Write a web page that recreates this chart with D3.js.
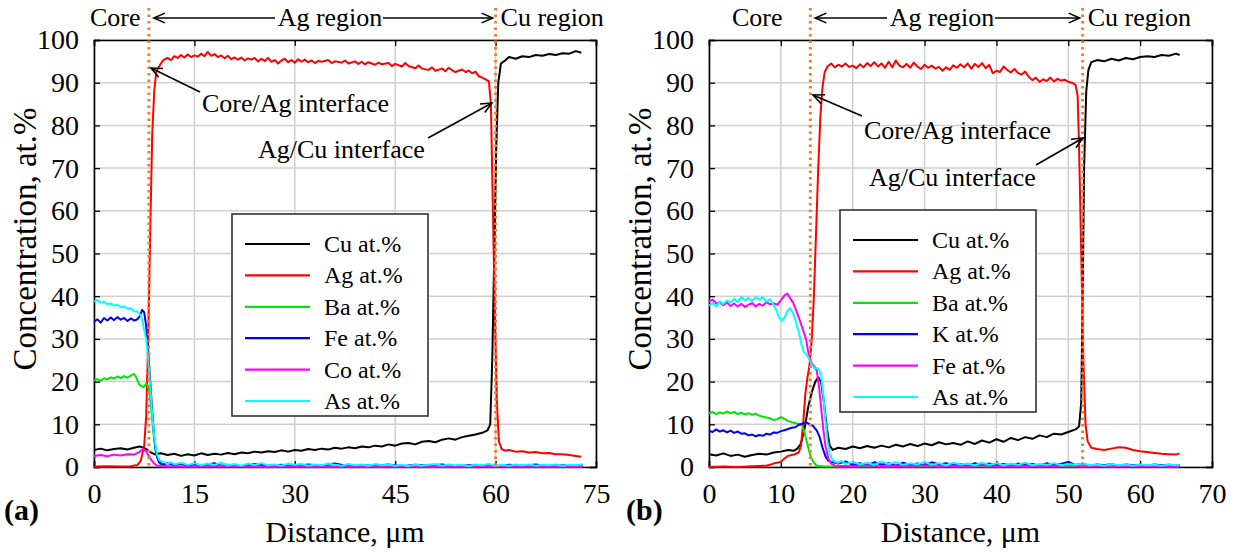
<!DOCTYPE html>
<html>
<head>
<meta charset="utf-8">
<script src="https://cdn.jsdelivr.net/npm/d3@7"></script>
<style>
  html, body { margin: 0; padding: 0; background: #fff; }
  svg { display: block; font-family: "Liberation Serif", "Times New Roman", serif; }
</style>
</head>
<body>
<svg id="chart" width="1237" height="552" font-family="Liberation Serif, Times New Roman, serif"></svg>
<script>
// ---- panel (a) ----
var ticksA = [0, 15, 30, 45, 60, 75];
var namesA = ["Cu at.%", "Ag at.%", "Ba at.%", "Fe at.%", "Co at.%", "As at.%"];
var interfacesA = [8.2, 60];

var cuA = [[0,4.0],[1,4.3],[2,3.9],[3,4.2],[4,4.4],[5,4.1],[6,4.5],[6.8,4.8],[7.3,4.6],[8,4.0],[8.5,3.4],[9,3.0],[10,3.2],[11,2.8],[12,3.1],[13,2.6],[14,3.0],[15,2.7],[16,3.2],[17,2.8],[18,3.1],[19,2.9],[20,3.3],[21,3.0],[22,3.4],[23,3.2],[24,3.6],[25,3.4],[26,3.7],[27,3.5],[28,3.9],[29,3.6],[30,4.0],[31,3.8],[32,4.2],[33,4.0],[34,4.3],[35,4.1],[36,4.5],[37,4.3],[38,4.6],[39,4.4],[40,4.8],[41,4.6],[42,5.0],[43,4.8],[44,5.3],[45,5.0],[46,5.5],[47,5.6],[48,5.3],[49,5.9],[50,6.1],[51,5.8],[52,6.4],[53,6.7],[54,6.4],[55,7.0],[56,7.3],[57,7.6],[58,8.0],[58.8,8.6],[59.2,10],[59.5,25],[59.8,50],[60.1,75],[60.4,90],[60.8,94.5],[61.5,95.3],[62,96.0],[63,95.6],[64,96.2],[65,96.0],[66,96.5],[67,96.3],[68,96.7],[69,96.5],[70,96.9],[71,96.8],[72,97.4],[72.8,97.0]];
var agA = [[0,0.1],[2,0.2],[4,0.1],[5.5,0.2],[6.5,0.5],[7,1.5],[7.5,5],[7.8,12],[8.1,30],[8.4,55],[8.7,78],[9.0,88],[9.3,92.5],[9.8,94],[10.3,95.2],[11,95.8],[11.5,95.3],[12,96.2],[12.5,95.8],[13,96.5],[13.5,95.9],[14,96.6],[14.5,96.0],[15,96.4],[15.5,96.1],[16,96.8],[16.5,96.2],[17,97.2],[17.5,96.3],[18,96.7],[18.5,96.0],[19,96.4],[19.5,95.7],[20,96.3],[20.5,95.5],[21,95.9],[21.5,95.4],[22,95.9],[22.5,95.2],[23,95.7],[23.5,95.4],[24,95.8],[24.5,95.0],[25,95.6],[25.5,95.1],[26,95.8],[26.5,94.9],[27,95.3],[27.5,94.5],[28,95.2],[28.5,95.6],[29,94.8],[29.5,95.3],[30,94.7],[30.5,95.5],[31,94.9],[31.5,95.4],[32,94.8],[32.5,95.2],[33,94.6],[33.5,95.1],[34,94.9],[35,95.3],[35.5,94.6],[36,95.0],[37,94.7],[37.5,95.2],[38,94.5],[39,95.0],[39.5,94.4],[40,94.9],[40.5,94.3],[41,94.8],[42,94.2],[42.5,94.7],[43,94.3],[44,94.6],[44.5,93.9],[45,94.4],[46,93.8],[46.5,94.6],[47,93.9],[48,93.4],[48.5,94.0],[49,93.3],[50,93.0],[50.5,93.6],[51,92.8],[52,93.3],[52.5,92.7],[53,93.5],[53.5,92.9],[54,92.5],[55,93.1],[55.5,92.5],[56,92.8],[56.5,92.2],[57,92.6],[57.5,91.5],[58,91.2],[58.5,90.8],[59,90.3],[59.3,85],[59.6,60],[59.9,35],[60.2,15],[60.5,6],[60.9,4.2],[61.5,3.8],[62,4.0],[63,3.6],[64,3.7],[65,3.4],[66,3.5],[67,3.2],[68,3.3],[69,3.0],[70,3.0],[71,2.8],[72,2.6],[72.8,2.4]];
var baA = [[0,20.3],[0.5,20.6],[1,20.2],[1.5,20.8],[2,20.5],[2.5,21.0],[3,20.7],[3.5,21.2],[4,20.8],[4.5,21.3],[5,20.9],[5.5,21.4],[6,21.8],[6.3,21.0],[6.7,19.5],[7,19.0],[7.4,18.7],[7.8,19.5],[8.1,19.0],[8.4,16],[8.7,11],[9.0,6],[9.3,3],[9.7,1],[10.2,0.3],[11,0.2],[20,0.1],[30,0.1],[40,0.1],[50,0.1],[60,0.1],[73,0.1]];
var feA = [[0,34.0],[0.5,34.6],[1,33.8],[1.5,34.9],[2,34.3],[2.5,35.0],[3,34.4],[3.5,35.1],[4,34.5],[4.5,34.9],[5,34.2],[5.5,34.8],[6,34.3],[6.5,34.6],[6.9,35.5],[7.2,36.8],[7.5,36.2],[7.8,33],[8.1,27],[8.4,20],[8.7,13],[9.0,7],[9.3,3],[9.7,1.2],[10.2,0.6],[11,0.9],[12,0.4],[13,0.8],[14,0.3],[15,0.7],[16,0.2],[17,0.6],[18,0.9],[19,0.3],[20,0.5],[22,0.2],[24,0.7],[26,0.3],[28,0.5],[30,0.2],[32,0.6],[34,0.3],[36,0.8],[38,0.2],[40,0.4],[42,0.3],[44,0.6],[46,0.2],[48,0.5],[50,0.3],[52,0.6],[54,0.2],[56,0.4],[58,0.3],[60,0.2],[62,0.5],[64,0.3],[66,0.6],[68,0.2],[70,0.4],[72,0.3],[73,0.5]];
var coA = [[0,2.6],[1,2.8],[2,2.5],[3,2.9],[4,2.7],[5,3.0],[6,2.9],[6.8,3.5],[7.3,4.2],[7.7,3.8],[8.1,2.8],[8.5,1.8],[9,0.8],[9.5,0.3],[10.5,0.2],[15,0.1],[20,0.3],[25,0.1],[30,0.2],[35,0.1],[40,0.2],[45,0.1],[50,0.2],[55,0.1],[60,0.2],[65,0.1],[70,0.2],[73,0.1]];
var asA = [[0,38.8],[0.5,39.1],[1,38.5],[1.5,38.7],[2,38.1],[2.5,38.3],[3,37.8],[3.5,38.0],[4,37.4],[4.5,37.6],[5,37.1],[5.5,37.2],[6,36.5],[6.5,36.4],[6.9,35.8],[7.2,34.5],[7.5,32],[7.8,30],[8.1,25],[8.4,19],[8.7,12],[9.0,7],[9.4,3],[9.8,1.5],[10.3,1.2],[11,0.8],[11.5,1.1],[12,0.6],[13,1.0],[14,0.5],[15,0.9],[16,0.4],[17,0.8],[18,0.5],[19,1.0],[20,0.4],[21,0.7],[22,0.3],[23,0.8],[24,0.5],[25,0.9],[26,0.4],[27,0.6],[28,0.3],[29,0.8],[30,0.5],[31,0.7],[32,0.3],[33,0.6],[34,0.4],[35,0.8],[36,0.5],[37,0.3],[38,0.7],[39,0.4],[40,0.6],[41,0.3],[42,0.7],[43,0.4],[44,0.6],[45,0.3],[46,0.5],[47,0.2],[48,0.6],[49,0.3],[50,0.5],[51,0.7],[52,0.3],[53,0.6],[54,0.4],[55,0.5],[56,0.2],[57,0.6],[58,0.4],[59,0.7],[60,0.3],[61,0.5],[62,0.3],[63,0.6],[64,0.4],[65,0.6],[66,0.3],[67,0.5],[68,0.4],[69,0.6],[70,0.3],[71,0.5],[72,0.4],[73,0.6]];

// ---- panel (b) ----
var ticksB = [0, 10, 20, 30, 40, 50, 60, 70];
var namesB = ["Cu at.%", "Ag at.%", "Ba at.%", "K at.%", "Fe at.%", "As at.%"];
var interfacesB = [14.1, 52];

var cuB = [[0,3.0],[1,2.7],[2,3.2],[3,2.6],[4,2.9],[5,2.4],[6,2.8],[7,3.1],[8,2.9],[9,3.4],[10,3.6],[11,4.0],[11.8,3.8],[12.3,4.3],[12.8,5.5],[13.3,9],[13.8,14],[14.3,17.5],[14.8,20],[15.2,21],[15.6,20],[16.0,15],[16.4,9],[16.8,5],[17.2,4],[18,4.5],[19,4.2],[20,4.8],[21,4.4],[22,4.9],[23,4.5],[24,5.0],[25,4.6],[26,5.2],[27,4.8],[28,5.4],[29,4.9],[30,5.5],[31,5.1],[32,5.8],[33,5.3],[34,5.6],[35,5.2],[36,6.0],[37,5.4],[38,6.2],[39,5.7],[40,6.5],[41,5.9],[42,6.8],[43,6.3],[44,7.0],[45,6.6],[46,7.4],[47,7.0],[48,7.8],[49,7.6],[50,8.2],[51,8.8],[51.5,9.5],[51.8,15],[52.0,40],[52.2,70],[52.5,88],[52.8,93],[53.2,94.8],[54,95.3],[55,95.0],[56,95.6],[57,95.2],[58,95.8],[59,95.5],[60,96.0],[61,96.2],[62,96.0],[63,96.5],[64,96.3],[65,96.8],[65.5,96.5]];
var agB = [[0,0],[2,0.1],[4,0],[6,0.2],[8,0.3],[9,0.8],[10,1.2],[10.5,2.0],[11,2.6],[11.5,2.8],[12,3.0],[12.5,3.4],[12.8,5],[13.1,10],[13.4,17],[13.7,21],[14.0,24],[14.3,30],[14.6,40],[14.9,55],[15.2,70],[15.5,82],[15.8,89],[16.1,92.5],[16.5,93.8],[17,94.5],[17.5,93.6],[18,94.2],[18.5,93.8],[19,94.5],[19.5,93.7],[20,94.0],[20.5,93.4],[21,94.3],[21.5,93.6],[22,94.6],[22.5,93.9],[23,94.8],[23.5,93.8],[24,94.5],[24.5,93.5],[25,94.9],[25.5,93.6],[26,95.2],[26.5,94.0],[27,93.6],[27.5,94.4],[28,93.5],[28.5,94.7],[29,93.8],[29.5,93.2],[30,94.2],[30.5,93.5],[31,94.0],[31.5,93.3],[32,93.7],[32.5,92.8],[33,93.6],[33.5,93.0],[34,94.1],[34.5,93.5],[35,94.3],[35.5,93.6],[36,94.5],[36.5,93.3],[37,94.4],[37.5,93.7],[38,94.6],[38.5,93.4],[39,94.2],[39.5,92.2],[40,92.8],[40.5,92.5],[41,93.8],[41.5,93.0],[42,92.4],[42.5,93.2],[43,92.3],[43.5,91.9],[44,92.6],[44.5,91.4],[45,90.6],[45.5,91.2],[46,90.2],[46.5,90.8],[47,90.4],[47.5,91.2],[48,90.3],[48.5,90.9],[49,90.5],[49.5,90.7],[50,90.2],[50.5,90.0],[51,89.5],[51.3,87],[51.5,75],[51.8,50],[52.1,25],[52.4,10],[52.7,6],[53.2,4.5],[54,4.2],[55,4.0],[56,4.3],[57,4.6],[58,4.5],[59,4.0],[60,3.7],[61,3.5],[62,3.3],[63,3.1],[64,3.0],[65,2.9],[65.5,3.2]];
var baB = [[0,12.6],[0.5,12.9],[1,12.4],[1.5,12.8],[2,12.5],[2.5,13.0],[3,12.6],[3.5,12.9],[4,12.4],[4.5,12.7],[5,12.3],[5.5,12.6],[6,12.2],[6.5,12.5],[7,12.0],[7.5,11.8],[8,11.6],[8.5,11.4],[9,11.0],[9.5,11.2],[10,11.7],[10.5,11.3],[11,10.8],[11.5,10.5],[12,10.3],[12.5,10.1],[13,9.6],[13.3,8],[13.6,6],[13.9,4],[14.2,2.2],[14.6,1.0],[15,0.3],[16,0.1],[30,0.1],[45,0.1],[65.5,0.1]];
var kB = [[0,8.5],[0.5,8.2],[1,8.8],[1.5,8.3],[2,8.6],[2.5,8.1],[3,8.5],[3.5,8.0],[4,8.3],[4.5,7.8],[5,7.9],[5.5,7.4],[6,7.6],[6.5,7.2],[7,7.5],[7.5,7.3],[8,7.8],[8.5,7.6],[9,8.1],[9.5,8.0],[10,8.4],[10.5,8.6],[11,8.9],[11.5,9.2],[12,9.3],[12.5,9.9],[13,10.2],[13.5,10.5],[14,10.0],[14.5,9.6],[15,8.5],[15.4,7],[15.8,4.5],[16.2,2.5],[16.6,1.5],[17,1.2],[18,0.8],[19,1.3],[20,0.5],[21,0.9],[22,0.4],[23,1.1],[24,0.6],[25,0.9],[26,0.3],[27,1.0],[28,0.5],[29,0.8],[30,0.4],[31,1.1],[32,0.6],[33,0.9],[34,0.4],[35,0.7],[36,0.3],[37,0.9],[38,0.5],[39,0.8],[40,0.4],[41,0.7],[42,0.3],[43,0.8],[44,0.5],[45,0.7],[46,0.3],[47,0.9],[48,0.4],[49,0.7],[50,1.2],[51,0.5],[52,0.8],[53,0.3],[54,0.6],[55,0.4],[56,0.7],[57,0.3],[58,0.6],[59,0.4],[60,0.5],[61,0.3],[62,0.6],[63,0.4],[64,0.5],[65,0.3],[65.5,0.5]];
var feB = [[0,38.8],[0.5,39.2],[1,38.3],[1.5,38.6],[2,37.9],[2.5,38.5],[3,37.7],[3.5,38.3],[4,37.6],[4.5,38.2],[5,37.5],[5.5,38.0],[6,38.4],[6.5,37.6],[7,38.2],[7.5,37.8],[8,38.6],[8.5,38.1],[9,38.3],[9.5,38.0],[10,39.0],[10.5,40.2],[10.9,40.6],[11.3,39.5],[11.7,38.5],[12.1,36.8],[12.5,35.0],[12.9,33.0],[13.2,31.5],[13.5,30.0],[13.8,27.0],[14.1,25.0],[14.4,24.0],[14.7,23.5],[15.0,22.5],[15.3,19],[15.6,14],[15.9,9],[16.2,5],[16.6,2],[17,0.8],[17.5,0.3],[20,0.2],[22,0.4],[24,0.1],[26,0.3],[28,0.2],[30,0.4],[32,0.1],[34,0.3],[36,0.2],[38,0.4],[40,0.2],[42,0.3],[44,0.1],[46,0.3],[48,0.2],[50,0.4],[52,0.2],[54,0.3],[56,0.1],[58,0.3],[60,0.2],[62,0.3],[64,0.1],[65.5,0.2]];
var asB = [[0,37.8],[0.5,38.4],[1,37.6],[1.5,38.8],[2,38.2],[2.5,39.0],[3,38.5],[3.5,39.4],[4,38.6],[4.5,39.8],[5,39.0],[5.5,39.6],[6,38.9],[6.5,39.7],[7,39.2],[7.5,39.8],[8,38.7],[8.5,39.3],[9,38.0],[9.3,37.0],[9.7,35.2],[10.1,34.3],[10.5,35.0],[10.9,36.5],[11.3,37.2],[11.7,36.0],[12.1,34.0],[12.5,31.5],[12.9,28.5],[13.2,27.0],[13.5,26.5],[13.9,25.5],[14.3,24.0],[14.7,23.0],[15.0,23.2],[15.3,22.8],[15.6,21.5],[15.9,17],[16.2,11],[16.5,6],[16.8,3],[17.2,1.6],[17.8,1.0],[18.5,1.4],[19,0.7],[20,1.2],[21,0.6],[22,1.0],[23,0.5],[24,1.3],[25,0.7],[26,1.1],[27,0.5],[28,0.9],[29,0.6],[30,1.2],[31,0.5],[32,0.9],[33,0.4],[34,1.0],[35,0.6],[36,0.8],[37,0.4],[38,1.0],[39,0.5],[40,0.9],[41,0.4],[42,0.8],[43,0.5],[44,1.0],[45,0.4],[46,0.7],[47,0.5],[48,0.9],[49,0.4],[50,0.7],[51,0.5],[52,0.8],[53,0.4],[54,0.6],[55,0.3],[56,0.7],[57,0.4],[58,0.6],[59,0.3],[60,0.6],[61,0.4],[62,0.5],[63,0.3],[64,0.6],[65,0.4],[65.5,0.5]];

var yTicks = [0, 10, 20, 30, 40, 50, 60, 70, 80, 90, 100];
var colors = ["#000000", "#ff0000", "#00e600", "#0000ff", "#ff00ff", "#00ffff"];
var SERIF = "Liberation Serif, Times New Roman, serif";

var svg = d3.select("#chart");

function arrow(g, x1, y1, x2, y2) {
  var a = Math.atan2(y2 - y1, x2 - x1);
  var len = 12, spread = 0.42;
  g.append("line")
    .attr("x1", x1).attr("y1", y1).attr("x2", x2).attr("y2", y2)
    .attr("stroke", "#000").attr("stroke-width", 1.6);
  g.append("path")
    .attr("d", "M" + (x2 - len * Math.cos(a - spread)) + "," + (y2 - len * Math.sin(a - spread)) +
      "L" + x2 + "," + y2 +
      "L" + (x2 - len * Math.cos(a + spread)) + "," + (y2 - len * Math.sin(a + spread)))
    .attr("fill", "none").attr("stroke", "#000").attr("stroke-width", 1.6);
}

function drawPanel(p) {
  var g = svg.append("g").attr("font-family", SERIF);
  var x = d3.scaleLinear().domain([0, p.xMax]).range([p.left, p.right]);
  var y = d3.scaleLinear().domain([0, 100]).range([467, 40]);

  // grid
  g.selectAll(".gx").data(p.xTicks).enter().append("line")
    .attr("x1", function(d) { return x(d); }).attr("x2", function(d) { return x(d); })
    .attr("y1", y(0)).attr("y2", y(100))
    .attr("stroke", "#cfcfcf").attr("stroke-width", 1.5);
  g.selectAll(".gy").data(yTicks).enter().append("line")
    .attr("x1", p.left).attr("x2", p.right)
    .attr("y1", function(d) { return y(d); }).attr("y2", function(d) { return y(d); })
    .attr("stroke", "#cfcfcf").attr("stroke-width", 1.5);

  // axes (ticks inward on all four sides)
  g.append("g").attr("transform", "translate(0," + y(0) + ")")
    .call(d3.axisBottom(x).tickValues(p.xTicks).tickSize(-6).tickPadding(16).tickFormat(d3.format("d")));
  g.append("g").attr("transform", "translate(0," + y(100) + ")")
    .call(d3.axisTop(x).tickValues(p.xTicks).tickSize(-6).tickFormat(""));
  g.append("g").attr("transform", "translate(" + p.left + ",0)")
    .call(d3.axisLeft(y).tickValues(yTicks).tickSize(-6).tickPadding(15).tickFormat(d3.format("d")));
  g.append("g").attr("transform", "translate(" + p.right + ",0)")
    .call(d3.axisRight(y).tickValues(yTicks).tickSize(-6).tickFormat(""));
  g.selectAll(".domain").attr("stroke", "#000").attr("stroke-width", 1.6);
  g.selectAll(".tick line").attr("stroke", "#000").attr("stroke-width", 1.3);
  g.selectAll(".tick text").attr("font-family", SERIF).attr("font-size", "28px").attr("fill", "#000");

  // data lines
  var line = d3.line().x(function(d) { return x(d[0]); }).y(function(d) { return y(d[1]); });
  p.series.forEach(function(s, i) {
    g.append("path").datum(s).attr("d", line)
      .attr("fill", "none").attr("stroke", colors[i]).attr("stroke-width", 2)
      .attr("stroke-linejoin", "round");
  });

  // interfaces
  p.interfaces.forEach(function(v) {
    g.append("line").attr("x1", x(v)).attr("x2", x(v)).attr("y1", 8).attr("y2", y(0))
      .attr("stroke", "#ee7d31").attr("stroke-width", 3).attr("stroke-dasharray", "2.5,4");
  });

  // legend
  var lg = g.append("g").attr("transform", "translate(" + p.legX + "," + p.legY + ")");
  lg.append("rect").attr("width", 196).attr("height", 202)
    .attr("fill", "#fff").attr("stroke", "#333").attr("stroke-width", 1.6);
  p.names.forEach(function(n, i) {
    var ly = 30 + i * 31.4;
    lg.append("line").attr("x1", 13).attr("x2", 78).attr("y1", ly).attr("y2", ly)
      .attr("stroke", colors[i]).attr("stroke-width", 2.2);
    lg.append("text").attr("x", 92).attr("y", ly + 8).attr("font-size", "24px").text(n);
  });

  // titles
  g.append("text").attr("x", (p.left + p.right) / 2).attr("y", 542)
    .attr("text-anchor", "middle").attr("font-size", "30px").text("Distance, \u03bcm");
  g.append("text").attr("transform", "translate(" + p.yTitleX + ",239) rotate(-90)")
    .attr("text-anchor", "middle").attr("font-size", "33px").text("Concentration, at.%");
  g.append("text").attr("x", p.tagX).attr("y", 520)
    .attr("font-size", "30px").attr("font-weight", "bold").text(p.tag);

  // region labels across the top
  var top = g.append("g").attr("font-size", "26px");
  top.append("text").attr("x", p.coreX).attr("y", 26).text("Core");
  top.append("text").attr("x", p.agX).attr("y", 26).attr("text-anchor", "middle").text("Ag region");
  top.append("text").attr("x", x(p.interfaces[1]) + 5).attr("y", 26).text("Cu region");
  arrow(top, p.agX - 55, 18, x(p.interfaces[0]) + 5, 18);
  arrow(top, p.agX + 53, 18, x(p.interfaces[1]) - 3, 18);

  // interface callouts
  var an = g.append("g").attr("font-size", "26px");
  an.append("text").attr("x", p.coreAg[0]).attr("y", p.coreAg[1]).text("Core/Ag interface");
  arrow(an, p.coreAg[2], p.coreAg[3], p.coreAg[4], p.coreAg[5]);
  an.append("text").attr("x", p.agCu[0]).attr("y", p.agCu[1]).text("Ag/Cu interface");
  arrow(an, p.agCu[2], p.agCu[3], p.agCu[4], p.agCu[5]);
}

drawPanel({
  left: 94, right: 596, xMax: 75, xTicks: ticksA,
  series: [cuA, agA, baA, feA, coA, asA], names: namesA, interfaces: interfacesA,
  legX: 232, legY: 214, yTitleX: 36, tagX: 4, tag: "(a)",
  coreX: 90, agX: 330,
  coreAg: [202, 112, 200, 92, 151, 68],
  agCu: [258, 158, 428, 138, 492, 103]
});
drawPanel({
  left: 709, right: 1212, xMax: 70, xTicks: ticksB,
  series: [cuB, agB, baB, kB, feB, asB], names: namesB, interfaces: interfacesB,
  legX: 840, legY: 210, yTitleX: 651, tagX: 626, tag: "(b)",
  coreX: 732, agX: 942,
  coreAg: [864, 139, 862, 116, 813, 95],
  agCu: [869, 186, 1036, 165, 1083, 138]
});
</script>
</body>
</html>
